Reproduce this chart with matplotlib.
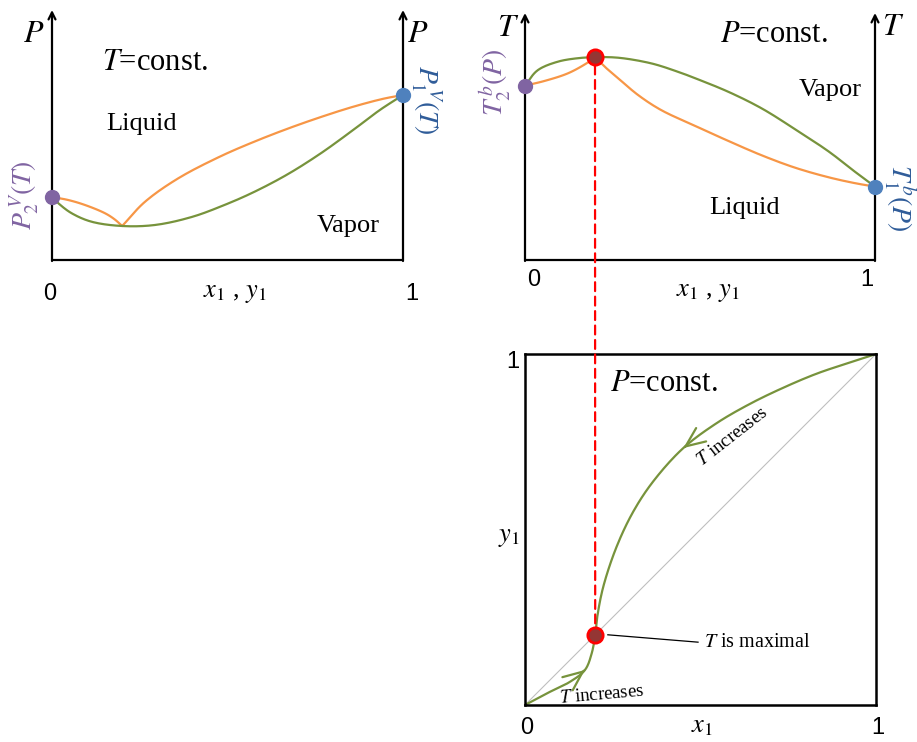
import numpy as np
import matplotlib
matplotlib.use('Agg')
import matplotlib.pyplot as plt
from matplotlib.patches import ConnectionPatch

plt.rcParams['font.family'] = ['Liberation Serif', 'DejaVu Serif']
plt.rcParams['mathtext.fontset'] = 'stix'

# Isothermal P-x-y diagram (minimum-pressure azeotrope)
pxy_x_vap = [0, .018, .056, .113, .2, .293, .398, .493, .574, .669, .764, .858, .934, 1]
pxy_p_vap = [.252, .227, .187, .153, .136, .14, .172, .221, .271, .341, .425, .52, .60, .66]
pxy_x_liq = [0, .046, .094, .151, .178, .2, .265, .36, .479, .574, .669, .764, .858, .944, 1]
pxy_p_liq = [.252, .24, .22, .187, .163, .136, .233, .327, .414, .472, .524, .571, .613, .645, .66]

# Isobaric T-x-y diagram (maximum-boiling azeotrope)
txy_x_vap = [0, .037, .094, .151, .2, .266, .361, .437, .486, .581, .676, .771, .867, .943, 1]
txy_t_vap = [.706, .769, .803, .817, .821, .819, .796, .762, .736, .681, .614, .53, .44, .357, .297]
txy_x_liq = [0, .056, .123, .18, .2, .229, .266, .323, .389, .486, .581, .676, .771, .867, .943, 1]
txy_t_liq = [.706, .725, .756, .8, .821, .781, .736, .668, .607, .543, .482, .424, .374, .335, .311, .297]

# y-x diagram at constant P
yx_x = [0, .062, .128, .171, .19, .2, .206, .223, .261, .309, .366, .451, .546, .641, .736, .831, .926, 1]
yx_y = [0, .033, .066, .1, .147, .2, .252, .337, .451, .552, .638, .732, .803, .858, .904, .944, .976, 1]

x_azeo = 0.2
p_azeo = 0.136
t_azeo = 0.821

green = '#77933C'
orange = '#F79646'
purple = '#8064A2'
blue = '#4F81BD'
blue_txt = '#2F5C99'
dark_red = '#943634'

W, H = 917, 742
fig = plt.figure(figsize=(W / 100, H / 100), dpi=100)


def smooth_path(xs, ys, n=16):
    # centripetal Catmull-Rom through the given points, for drawing only
    P = np.column_stack([xs, ys]).astype(float)
    P = np.vstack([2 * P[0] - P[1], P, 2 * P[-1] - P[-2]])
    out = []
    for k in range(1, len(P) - 2):
        p0, p1, p2, p3 = P[k - 1:k + 3]
        t0 = 0.0
        t1 = t0 + np.linalg.norm(p1 - p0) ** 0.5
        t2 = t1 + np.linalg.norm(p2 - p1) ** 0.5
        t3 = t2 + np.linalg.norm(p3 - p2) ** 0.5
        t = np.linspace(t1, t2, n, endpoint=False)[:, None]
        a1 = (t1 - t) / (t1 - t0) * p0 + (t - t0) / (t1 - t0) * p1
        a2 = (t2 - t) / (t2 - t1) * p1 + (t - t1) / (t2 - t1) * p2
        a3 = (t3 - t) / (t3 - t2) * p2 + (t - t2) / (t3 - t2) * p3
        b1 = (t2 - t) / (t2 - t0) * a1 + (t - t0) / (t2 - t0) * a2
        b2 = (t3 - t) / (t3 - t1) * a2 + (t - t1) / (t3 - t1) * a3
        out.append((t2 - t) / (t2 - t1) * b1 + (t - t1) / (t2 - t1) * b2)
    out.append(P[-2][None])
    c = np.vstack(out)
    return c[:, 0], c[:, 1]


def curve(ax, xs, ys, color, split=None):
    # split: index of a kink where the two branches meet
    parts = [(xs, ys)] if split is None else [(xs[:split + 1], ys[:split + 1]),
                                              (xs[split:], ys[split:])]
    for px, py in parts:
        sx, sy = smooth_path(px, py)
        ax.plot(sx, sy, color=color, lw=1.6, clip_on=False, solid_capstyle='round')


def panel(left, top, right, bottom):
    ax = fig.add_axes([left / W, 1 - bottom / H, (right - left) / W, (bottom - top) / H])
    ax.set_xlim(0, 1)
    ax.set_ylim(0, 1)
    return ax


def arrow_axes(ax):
    ax.axis('off')
    ax.plot([0, 1], [0, 0], color='k', lw=1.6, clip_on=False, solid_capstyle='butt')
    for x in (0, 1):
        ax.annotate('', xy=(x, 1), xytext=(x, -0.004),
                    arrowprops=dict(arrowstyle='->,head_length=0.5,head_width=0.25',
                                    lw=1.6, color='k', shrinkA=0, shrinkB=0),
                    annotation_clip=False)


def dot(ax, x, y, fc, ec=None, ms=10, mew=1):
    ax.plot(x, y, 'o', ms=ms, mfc=fc, mec=ec or fc, mew=mew, clip_on=False, zorder=6)


sans = dict(fontsize=17, family='Liberation Sans')

# ---- top left: P-x-y ----
ax1 = panel(52, 10, 403, 260)
arrow_axes(ax1)
curve(ax1, pxy_x_liq, pxy_p_liq, orange, split=pxy_x_liq.index(x_azeo))
curve(ax1, pxy_x_vap, pxy_p_vap, green)
dot(ax1, 0, pxy_p_vap[0], purple)
dot(ax1, 1, pxy_p_vap[-1], blue)

kw = dict(transform=ax1.transAxes, ha='center', va='center')
ax1.text(-0.051, 0.9, '$P$', fontsize=23, **kw)
ax1.text(1.043, 0.904, '$P$', fontsize=23, **kw)
ax1.text(0.293, 0.792, '$T$=const.', fontsize=22, **kw)
ax1.text(0.256, 0.544, 'Liquid', fontsize=19, **kw)
ax1.text(0.843, 0.136, 'Vapor', fontsize=19, **kw)
ax1.text(-0.006, -0.136, '0', **sans, **kw)
ax1.text(1.026, -0.136, '1', **sans, **kw)
ax1.text(0.521, -0.136, '$x_1$ , $y_1$', fontsize=19, **kw)
ax1.text(-0.077, 0.26, r'$P_2^{\,V}(T)$', fontsize=20, color=purple, rotation=90, **kw)
ax1.text(1.066, 0.64, r'$P_1^{\,V}(T)$', fontsize=20, color=blue_txt, rotation=-90, **kw)

# ---- top right: T-x-y ----
ax2 = panel(525, 13, 875, 260)
arrow_axes(ax2)
curve(ax2, txy_x_liq, txy_t_liq, orange, split=txy_x_liq.index(x_azeo))
curve(ax2, txy_x_vap, txy_t_vap, green)
dot(ax2, 0, txy_t_vap[0], purple)
dot(ax2, 1, txy_t_vap[-1], blue)
dot(ax2, x_azeo, t_azeo, dark_red, 'red', ms=11, mew=2)

kw = dict(transform=ax2.transAxes, ha='center', va='center')
ax2.text(-0.049, 0.939, '$T$', fontsize=23, **kw)
ax2.text(1.051, 0.943, '$T$', fontsize=23, **kw)
ax2.text(0.711, 0.911, '$P$=const.', fontsize=22, **kw)
ax2.text(0.871, 0.688, 'Vapor', fontsize=19, **kw)
ax2.text(0.626, 0.21, 'Liquid', fontsize=19, **kw)
ax2.text(0.026, -0.081, '0', **sans, **kw)
ax2.text(0.977, -0.081, '1', **sans, **kw)
ax2.text(0.523, -0.134, '$x_1$ , $y_1$', fontsize=19, **kw)
ax2.text(-0.086, 0.72, r'$T_2^{\,b}(P)$', fontsize=20, color=purple, rotation=90, **kw)
ax2.text(1.068, 0.251, r'$T_1^{\,b}(P)$', fontsize=20, color=blue_txt, rotation=-90, **kw)

# ---- bottom: y-x ----
ax3 = panel(525, 354, 876, 705)
ax3.set_xticks([])
ax3.set_yticks([])
for s in ax3.spines.values():
    s.set_linewidth(1.8)
ax3.plot([0, 1], [0, 1], color='#BFBFBF', lw=0.8)
curve(ax3, yx_x, yx_y, green)
dot(ax3, x_azeo, x_azeo, dark_red, 'red', ms=11, mew=2)

head = dict(arrowstyle='->,head_length=0.7,head_width=0.3', color=green, lw=1.6,
            shrinkA=0, shrinkB=0, mutation_scale=20)
# direction markers along the curve (toward higher T)
i = yx_x.index(.451)
d = np.array([yx_x[i + 1] - yx_x[i], yx_y[i + 1] - yx_y[i]])
ax3.annotate('', xy=(yx_x[i], yx_y[i]), xytext=(yx_x[i] + 0.05 * d[0], yx_y[i] + 0.05 * d[1]),
             arrowprops=head)
j = yx_x.index(.171)
d = np.array([yx_x[j] - yx_x[j - 1], yx_y[j] - yx_y[j - 1]])
ax3.annotate('', xy=(yx_x[j], yx_y[j]), xytext=(yx_x[j] - 0.05 * d[0], yx_y[j] - 0.05 * d[1]),
             arrowprops=head)

ax3.plot([0.236, 0.493], [0.2, 0.179], color='k', lw=0.9)

kw = dict(transform=ax3.transAxes, ha='center', va='center')
ax3.text(-0.034, 0.977, '1', **sans, **kw)
ax3.text(-0.046, 0.476, '$y_1$', fontsize=19, **kw)
ax3.text(0.006, -0.066, '0', **sans, **kw)
ax3.text(1.006, -0.066, '1', **sans, **kw)
ax3.text(0.504, -0.063, '$x_1$', fontsize=19, **kw)
ax3.text(0.396, 0.917, '$P$=const.', fontsize=22, **kw)
ax3.text(0.59, 0.764, '$T$ increases', fontsize=13.5, rotation=38, **kw)
ax3.text(0.219, 0.028, '$T$ increases', fontsize=13.5, rotation=5, **kw)
ax3.text(0.661, 0.179, '$T$ is maximal', fontsize=14.5, **kw)

# azeotrope composition carried down from the T-x-y diagram
con = ConnectionPatch(xyA=(x_azeo, t_azeo), coordsA=ax2.transData,
                      xyB=(x_azeo, x_azeo), coordsB=ax3.transData,
                      color='red', lw=1.6, linestyle=(0, (4, 2.5)),
                      shrinkA=6, shrinkB=8, zorder=3)
fig.add_artist(con)

fig.savefig('out.png', dpi=100)
